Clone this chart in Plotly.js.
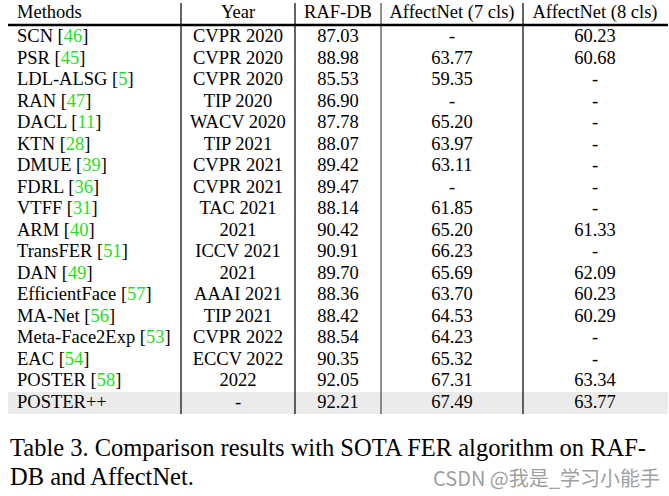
<!DOCTYPE html>
<html><head><meta charset="utf-8">
<script src="https://cdn.plot.ly/plotly-3.0.1.min.js"></script>
<style>html,body{margin:0;padding:0;background:#fff}</style>
</head><body>
<div id="chart" style="width:669px;height:496px"></div>
<script>
const headers = ["Methods", "Year", "RAF-DB", "AffectNet (7 cls)", "AffectNet (8 cls)"];
const methods = ["SCN", "PSR", "LDL-ALSG", "RAN", "DACL", "KTN", "DMUE", "FDRL", "VTFF", "ARM", "TransFER", "DAN", "EfficientFace", "MA-Net", "Meta-Face2Exp", "EAC", "POSTER", "POSTER++"];
const refs = ["46", "45", "5", "47", "11", "28", "39", "36", "31", "40", "51", "49", "57", "56", "53", "54", "58", ""];
const years = ["CVPR 2020", "CVPR 2020", "CVPR 2020", "TIP 2020", "WACV 2020", "TIP 2021", "CVPR 2021", "CVPR 2021", "TAC 2021", "2021", "ICCV 2021", "2021", "AAAI 2021", "TIP 2021", "CVPR 2022", "ECCV 2022", "2022", "-"];
const rafdb = ["87.03", "88.98", "85.53", "86.90", "87.78", "88.07", "89.42", "89.47", "88.14", "90.42", "90.91", "89.70", "88.36", "88.42", "88.54", "90.35", "92.05", "92.21"];
const affect7 = ["-", "63.77", "59.35", "-", "65.20", "63.97", "63.11", "-", "61.85", "65.20", "66.23", "65.69", "63.70", "64.53", "64.23", "65.32", "67.31", "67.49"];
const affect8 = ["60.23", "60.68", "-", "-", "-", "-", "-", "-", "-", "61.33", "-", "62.09", "60.23", "60.29", "-", "-", "63.34", "63.77"];
const caption1 = "Table 3. Comparison results with SOTA FER algorithm on RAF-";
const caption2 = "DB and AffectNet.";
const watermark = "CSDN @我是_学习小能手";

// ---- layout / style config ----
const W = 669, H = 496;
const GREEN = "#1fe01f";
const FONT = "Liberation Serif";
const FS = 18.5;
const ROW_H = 21.5, FIRST_ROW_Y = 37.8, HEADER_Y = 13.5;
const colX = [17, 238, 338, 452, 595];          // text anchor positions (px)
const colPos = ["middle right", "middle center", "middle center", "middle center", "middle center"];
const colEdges = [181, 295, 381, 523];
const L = 8, R = 668;

const rowIdx = methods.map((m, i) => i);
const headerRow = -(FIRST_ROW_Y - HEADER_Y) / ROW_H;
const yTop = -FIRST_ROW_Y / ROW_H;
const yBot = (H - FIRST_ROW_Y) / ROW_H;

const methodCells = methods.map((m, i) => refs[i] ? m + " [<span style=\"color:" + GREEN + "\">" + refs[i] + "</span>]" : m);
const columns = [methodCells, years, rafdb, affect7, affect8];

const traces = columns.map((col, c) => ({
  type: "scatter", mode: "text",
  x: col.map(() => colX[c]),
  y: rowIdx,
  text: col,
  textposition: colPos[c],
  textfont: {family: FONT, size: FS, color: "#000"},
  hoverinfo: "skip", cliponaxis: false
}));
traces.push({
  type: "scatter", mode: "text",
  x: colX, y: headers.map(() => headerRow), text: headers,
  textposition: colPos,
  textfont: {family: FONT, size: FS, color: "#000"},
  hoverinfo: "skip", cliponaxis: false
});

const px = x => x / W, py = y => 1 - y / H;
const shapes = [];
// highlighted last row
shapes.push({type: "rect", xref: "paper", yref: "paper", layer: "below",
  x0: px(L), x1: px(R), y0: py(414), y1: py(392),
  fillcolor: "#ebebeb", line: {width: 0}});
colEdges.forEach((x, i) => {
  shapes.push({type: "line", xref: "paper", yref: "paper", x0: px(x), x1: px(x), y0: py(3), y1: py(414),
    line: {color: i === 2 ? "#555" : "#111", width: 1.3}});
});
shapes.push({type: "line", xref: "paper", yref: "paper", x0: px(L), x1: px(R), y0: py(25), y1: py(25),
  line: {color: "#000", width: 2.5}});

const annotations = [
  {text: caption1, xref: "paper", yref: "paper", x: px(8), y: py(447), xanchor: "left", yanchor: "middle", showarrow: false,
   font: {family: FONT, size: 24.5, color: "#000"}},
  {text: caption2, xref: "paper", yref: "paper", x: px(8), y: py(476), xanchor: "left", yanchor: "middle", showarrow: false,
   font: {family: FONT, size: 24.5, color: "#000"}},
  {text: watermark, xref: "paper", yref: "paper", x: px(662), y: py(477), xanchor: "right", yanchor: "middle", showarrow: false,
   font: {family: "Noto Sans CJK SC", size: 20, color: "#a0a0a0"}}
];

Plotly.newPlot("chart", traces, {
  width: W, height: H,
  margin: {l: 0, r: 0, t: 0, b: 0},
  paper_bgcolor: "#fff", plot_bgcolor: "#fff",
  xaxis: {range: [0, W], visible: false, fixedrange: true},
  yaxis: {range: [yBot, yTop], visible: false, fixedrange: true},
  shapes: shapes,
  annotations: annotations,
  showlegend: false
}, {displayModeBar: false, staticPlot: true});
</script>
</body></html>
